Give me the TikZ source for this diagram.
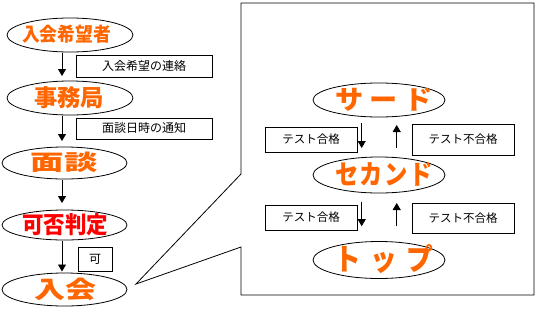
\documentclass[tikz,border=0pt]{standalone}
\usepackage{graphicx}
\usepackage{fontspec}
\newfontfamily\jp{Noto Sans CJK JP}
\usetikzlibrary{shapes.geometric,arrows.meta}
\definecolor{orng}{HTML}{FF6600}
\definecolor{rd}{HTML}{FF0000}
\newcommand\ct[1]{\makebox[0pt]{\raisebox{-.36em}[0pt][0pt]{#1}}}
% #1 horizontal offset, #2 width, #3 height, #4 text
\newcommand\bigt[4][0pt]{\makebox[0pt]{\hspace*{#1}\hspace*{#1}\raisebox{-0.42\height}[0pt][0pt]{\resizebox{#2}{#3}{#4}}}}
\tikzset{
  oval/.style={ellipse, draw, line width=0.8pt, inner sep=0pt, outer sep=0pt, fill=white},
  big/.style={font=\jp\bfseries\fontsize{20}{20}\selectfont, text=orng},
  lbl/.style={draw, line width=0.8pt, inner sep=0pt, font=\jp\fontsize{#1}{#1}\selectfont},
  arr/.style={line width=0.8pt, -{Triangle[length=7pt,width=8pt]}},
  callout/.style={draw, line width=0.8pt}
}
\begin{document}
\begin{tikzpicture}[x=1pt,y=-1pt]
\useasboundingbox (0,0) rectangle (537,308);
% callout frame
\coordinate (ptr) at (136,284);
\draw[callout] (241,3) -- (534,3) -- (534,295) -- (241,295) -- (241,247) -- (ptr) -- (241,174) -- cycle;
% left column
\node[oval, minimum width=126pt, minimum height=34pt, big] (e1) at (70,35) {\bigt[-3.5pt]{89pt}{16.5pt}{入会希望者}};
\node[oval, minimum width=126pt, minimum height=34pt, big] (e2) at (70,98) {\bigt[-1pt]{70pt}{20pt}{事務局}};
\node[oval, minimum width=125pt, minimum height=32pt, big] (e3) at (64.5,163) {\bigt[-0.5pt]{67pt}{18.5pt}{面談}};
\node[oval, minimum width=125pt, minimum height=30pt, big, text=rd] (e4) at (64.5,225) {\bigt[0.5pt]{86pt}{20pt}{可否判定}};
\node[oval, minimum width=125pt, minimum height=33pt, big] (e5) at (64.5,289.5) {\bigt[0.5pt]{62pt}{20.5pt}{入会}};
% left labels
\node[lbl=12, minimum width=136pt, minimum height=22pt] (b1) at (144,66) {\ct{入会希望の連絡}};
\node[lbl=12, minimum width=136pt, minimum height=21pt] (b2) at (144,128.5) {\ct{面談日時の通知}};
\node[lbl=12, minimum width=34pt, minimum height=24pt] (b3) at (95,259) {\ct{可}};
% left arrows
\draw[arr] ([xshift=-8pt,yshift=-1pt]e1.south) -- ([xshift=-8pt,yshift=5pt]e2.north);
\draw[arr] ([xshift=-8pt,yshift=-1pt]e2.south) -- ([xshift=-2.5pt,yshift=6pt]e3.north);
\draw[arr] ([xshift=-2.5pt,yshift=-1pt]e3.south) -- ([xshift=-2.5pt,yshift=7pt]e4.north);
\draw[arr] ([xshift=-2.5pt,yshift=-1pt]e4.south) -- ([xshift=-2.5pt,yshift=1.5pt]e5.north);
% right column
\node[oval, minimum width=132pt, minimum height=34pt, big] (s1) at (379,100) {\bigt[5pt]{97pt}{21.5pt}{\makebox[3.45em][s]{サ\hfil ー\hfil ド}}};
\node[oval, minimum width=132pt, minimum height=36pt, big] (s2) at (379,175) {\bigt[5pt]{98pt}{22pt}{\makebox[4.2em][s]{セ\hfil カ\hfil ン\hfil ド}}};
\node[oval, minimum width=132pt, minimum height=37pt, big] (s3) at (379,260) {\bigt[5pt]{99pt}{26pt}{\makebox[3.7em][s]{ト\hfil ッ\hfil プ}}};
% right labels
\node[lbl=11.5, minimum width=92pt, minimum height=25pt] (r1) at (311,139.5) {\ct{テスト合格}};
\node[lbl=11.5, minimum width=102pt, minimum height=31pt] (r2) at (463,139.5) {\ct{テスト不合格}};
\node[lbl=11.5, minimum width=92pt, minimum height=25pt] (r3) at (311,217.5) {\ct{テスト合格}};
\node[lbl=11.5, minimum width=102pt, minimum height=30pt] (r4) at (463,218) {\ct{テスト不合格}};
% right arrows
\draw[arr] ([xshift=-17.3pt,yshift=-6pt]s1.south) -- ([xshift=-17.3pt,yshift=9pt]s2.north);
\draw[arr] ([xshift=17.7pt,yshift=9pt]s2.north) -- ([xshift=17.7pt,yshift=-8pt]s1.south);
\draw[arr] ([xshift=-17.3pt,yshift=-8.7pt]s2.south) -- ([xshift=-17.3pt,yshift=15.3pt]s3.north);
\draw[arr] ([xshift=17.7pt,yshift=15.3pt]s3.north) -- ([xshift=17.7pt,yshift=-10pt]s2.south);
\end{tikzpicture}
\end{document}
